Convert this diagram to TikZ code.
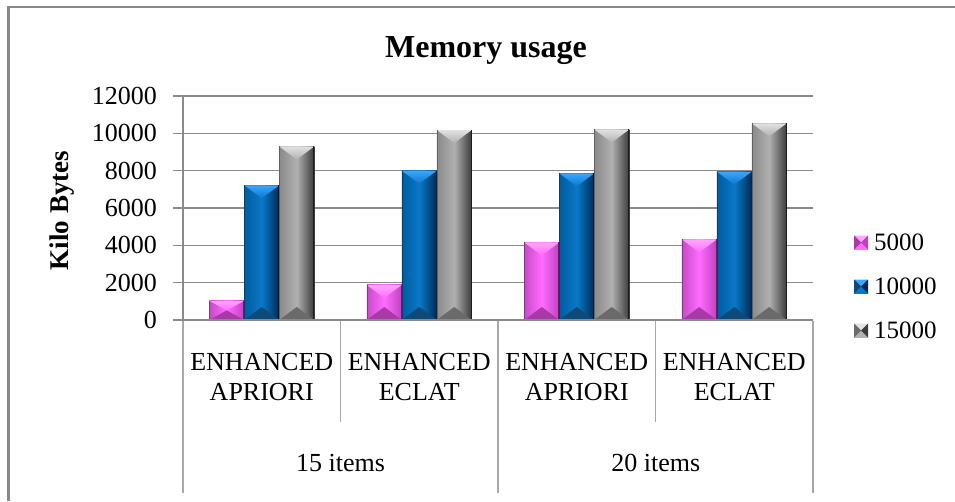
\documentclass[tikz,border=0pt]{standalone}
\usepackage{fontspec}
\setmainfont{Liberation Serif}
\definecolor{gridc}{HTML}{8A8A8A}
\definecolor{sepc}{HTML}{A8A8A8}
\definecolor{borderc}{HTML}{888888}
% pink
\definecolor{pinkE}{HTML}{C84AC8}
\definecolor{pinkM}{HTML}{FF6BFF}
\definecolor{pinkD}{HTML}{C040C0}
\definecolor{pinkL}{HTML}{FFA6FF}
\definecolor{pinkB}{HTML}{A83AA8}
% blue
\definecolor{blueE}{HTML}{005C9E}
\definecolor{blueM}{HTML}{0A78C8}
\definecolor{blueD}{HTML}{002A52}
\definecolor{blueL}{HTML}{3AA6FF}
\definecolor{blueB}{HTML}{0D4A7A}
% gray
\definecolor{grayE}{HTML}{8A8A8A}
\definecolor{grayM}{HTML}{B0B0B0}
\definecolor{grayD}{HTML}{3A3A3A}
\definecolor{grayL}{HTML}{E2E2E2}
\definecolor{grayB}{HTML}{6A6A6A}
\newcommand\mybar[3]{%
  \pgfmathsetmacro\bT{320-#2*0.0186667}%
  \pgfmathsetmacro\bR{#1+35}%
  \pgfmathsetmacro\bC{#1+17.5}%
  \pgfmathsetmacro\bd{min(13,(320-\bT)/2)}%
  \shade[left color=#3E, right color=#3D, middle color=#3M] (#1,\bT) rectangle (\bR,320);
  \shade[top color=#3L, bottom color=#3M] (#1,\bT) -- (\bR,\bT) -- (\bC,\bT+\bd) -- cycle;
  \fill[#3B] (#1,320) -- (\bR,320) -- (\bC,320-\bd) -- cycle;
  \draw[#3D!50!black, line width=1.2pt] (\bR-0.6,\bT) -- (\bR-0.6,320);
  \draw[#3E!70!black, line width=0.6pt] (#1+0.3,\bT) -- (#1+0.3,320);
}
\newcommand\mylegend[3]{% y-center, prefix, name
  \fill[#2M] (854,#1-7) rectangle (868,#1+7);
  \fill[#2L] (854,#1-7) -- (868,#1-7) -- (861,#1) -- cycle;
  \fill[#2B] (854,#1-7) -- (861,#1) -- (854,#1+7) -- cycle;
  \fill[#2D] (868,#1-7) -- (861,#1) -- (868,#1+7) -- cycle;
}
\begin{document}
\begin{tikzpicture}[x=1pt,y=-1pt,
  grid/.style={draw=gridc,line width=1.4pt},
  sepline/.style={draw=sepc,line width=1.1pt},
  lbl/.style={font=\fontsize{26}{30}\selectfont,inner sep=0pt},
  leg/.style={font=\fontsize{25}{30}\selectfont,inner sep=0pt,anchor=base west}]
\useasboundingbox (0,0) rectangle (955,501);
\fill[white] (0,0) rectangle (955,501);
\draw[line width=2.2pt, draw=borderc] (8.5,501) -- (8.5,7.3) -- (955,7.3);
% title
\node[inner sep=0pt,anchor=base,font=\fontsize{32}{36}\selectfont\bfseries] (title) at (486,57.3) {Memory usage};
% y label
\node[inner sep=0pt,rotate=90,font=\fontsize{27}{30}\selectfont\bfseries] (ylab) at (62,210.5) {Kilo Bytes};
% gridlines
\foreach \v in {1,2,...,6}
  \draw[grid] (173,{320-\v*37.3333}) -- (813,{320-\v*37.3333});
% tick labels
\foreach \k/\v/\n in {0/0/ta,1/2000/tb,2/4000/tc,3/6000/td,4/8000/te,5/10000/tf,6/12000/tg}
  \node[lbl,anchor=east] (\n) at (157,{320-\k*37.3333}) {\v};
\draw[grid] (183,96) -- (183,320);
% bars
\mybar{209.25}{1030}{pink}
\mybar{244.25}{7220}{blue}
\mybar{279.25}{9300}{gray}
\mybar{366.75}{1880}{pink}
\mybar{401.75}{8000}{blue}
\mybar{436.75}{10180}{gray}
\mybar{524.25}{4160}{pink}
\mybar{559.25}{7860}{blue}
\mybar{594.25}{10210}{gray}
\mybar{681.75}{4320}{pink}
\mybar{716.75}{7950}{blue}
\mybar{751.75}{10540}{gray}
% axis
\draw[grid] (173,320) -- (813,320);
% category separators
\draw[sepline] (183,321) -- (183,493);
\draw[sepline] (340.5,321) -- (340.5,422);
\draw[sepline] (498,321) -- (498,493);
\draw[sepline] (655.5,321) -- (655.5,422);
\draw[sepline] (813,321) -- (813,493);
% category labels
\node[lbl,anchor=base] (c1a) at (261.75,370.7) {ENHANCED};
\node[lbl,anchor=base] (c1b) at (261.75,400.2) {APRIORI};
\node[lbl,anchor=base] (c2a) at (419.25,370.7) {ENHANCED};
\node[lbl,anchor=base] (c2b) at (419.25,400.2) {ECLAT};
\node[lbl,anchor=base] (c3a) at (576.75,370.7) {ENHANCED};
\node[lbl,anchor=base] (c3b) at (576.75,400.2) {APRIORI};
\node[lbl,anchor=base] (c4a) at (734.25,370.7) {ENHANCED};
\node[lbl,anchor=base] (c4b) at (734.25,400.2) {ECLAT};
\node[lbl,anchor=base] (g1) at (340.5,471.7) {15 items};
\node[lbl,anchor=base] (g2) at (655.75,471.7) {20 items};
% legend
\mylegend{242.5}{pink}{la}
\mylegend{286.5}{blue}{lb}
\mylegend{330.5}{gray}{lc}
\node[leg] (l1) at (874,250.5) {5000};
\node[leg] (l2) at (874,294.5) {10000};
\node[leg] (l3) at (874,338.5) {15000};
\end{tikzpicture}
\end{document}
